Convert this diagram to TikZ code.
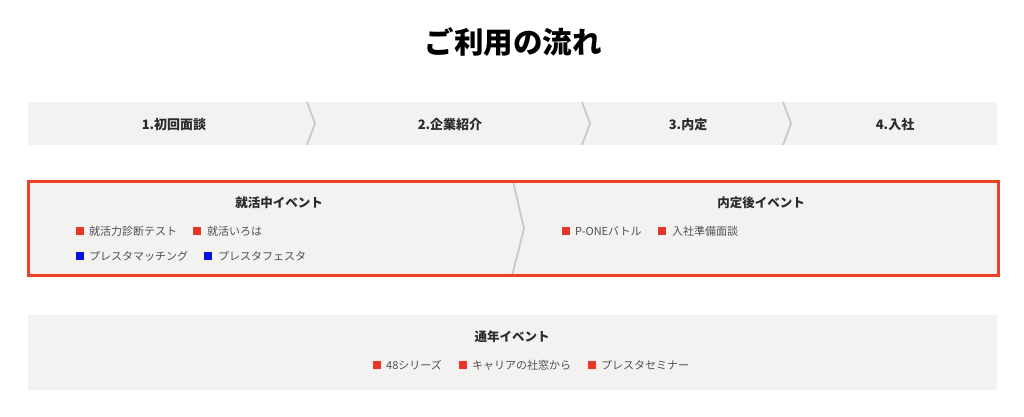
\documentclass[tikz,border=0pt]{standalone}
\usepackage{fontspec}
\setmainfont{Noto Sans CJK JP}
\definecolor{bandgray}{HTML}{F3F2F0}
\definecolor{chevgray}{HTML}{C9C9C9}
\definecolor{framered}{HTML}{EA4128}
\definecolor{sqred}{HTML}{E8352A}
\definecolor{sqblue}{HTML}{0A10E6}
\definecolor{headtxt}{HTML}{2B2B2B}
\definecolor{itemtxt}{HTML}{505050}
\tikzset{
  band/.style={fill=bandgray, draw=none},
  chev/.style={draw=chevgray, line width=1.8pt, line join=miter},
  steplabel/.style={font=\fontsize{13}{15}\selectfont\bfseries, text=headtxt, inner sep=0pt},
  headlabel/.style={font=\fontsize{12.5}{15}\selectfont\bfseries, text=headtxt, inner sep=0pt},
  itemtext/.style={font=\fontsize{11}{13}\selectfont, text=itemtxt, inner sep=0pt, anchor=west},
  sqbox/.style={fill=#1, draw=none, minimum size=8pt, inner sep=0pt},
}
\begin{document}
\begin{tikzpicture}[x=1pt,y=-1pt]
\useasboundingbox[fill=white] (0,0) rectangle (1024,416);
% title
\node[font=\fontsize{29.5}{34}\selectfont\bfseries, text=black, inner sep=0pt] (title) at (513,42) {ご利用の流れ};
% step band
\fill[band] (28,102) rectangle (997,145);
\draw[chev] (307,102) -- (315,123.5) -- (307,145);
\draw[chev] (582,102) -- (590,123.5) -- (582,145);
\draw[chev] (783,102) -- (791,123.5) -- (783,145);
\node[steplabel] (s1) at (174,125) {1.初回面談};
\node[steplabel] (s2) at (450,125) {2.企業紹介};
\node[steplabel] (s3) at (688,125) {3.内定};
\node[steplabel] (s4) at (895,125) {4.入社};
% event box
\fill[band] (28,181) rectangle (998,275);
\draw[chev] (513,181) -- (524,228.5) -- (512,276);
\draw[draw=framered, line width=3pt] (28,181) rectangle (998,275);
\node[headlabel] (h1) at (279,203) {就活中イベント};
\node[headlabel] (h2) at (761,203) {内定後イベント};
\node[sqbox=sqred] (q1) at (80,231) {};
\node[itemtext] (i1) at (89,231) {就活力診断テスト};
\node[sqbox=sqred] (q2) at (197,231) {};
\node[itemtext] (i2) at (207,231) {就活いろは};
\node[sqbox=sqblue] (q3) at (80,256) {};
\node[itemtext] (i3) at (89,256) {プレスタマッチング};
\node[sqbox=sqblue] (q4) at (208,256) {};
\node[itemtext] (i4) at (218,256) {プレスタフェスタ};
\node[sqbox=sqred] (q5) at (566,231) {};
\node[itemtext] (i5) at (575,231) {P-ONEバトル};
\node[sqbox=sqred] (q6) at (662,231) {};
\node[itemtext] (i6) at (672,231) {入社準備面談};
% yearly band
\fill[band] (28,315) rectangle (997,390);
\node[headlabel] (h3) at (512,337) {通年イベント};
\node[sqbox=sqred] (q7) at (377,365) {};
\node[itemtext] (i7) at (386,365) {48シリーズ};
\node[sqbox=sqred] (q8) at (463,365) {};
\node[itemtext] (i8) at (472,365) {キャリアの社窓から};
\node[sqbox=sqred] (q9) at (592,365) {};
\node[itemtext] (i9) at (601,365) {プレスタセミナー};
\end{tikzpicture}
\end{document}
